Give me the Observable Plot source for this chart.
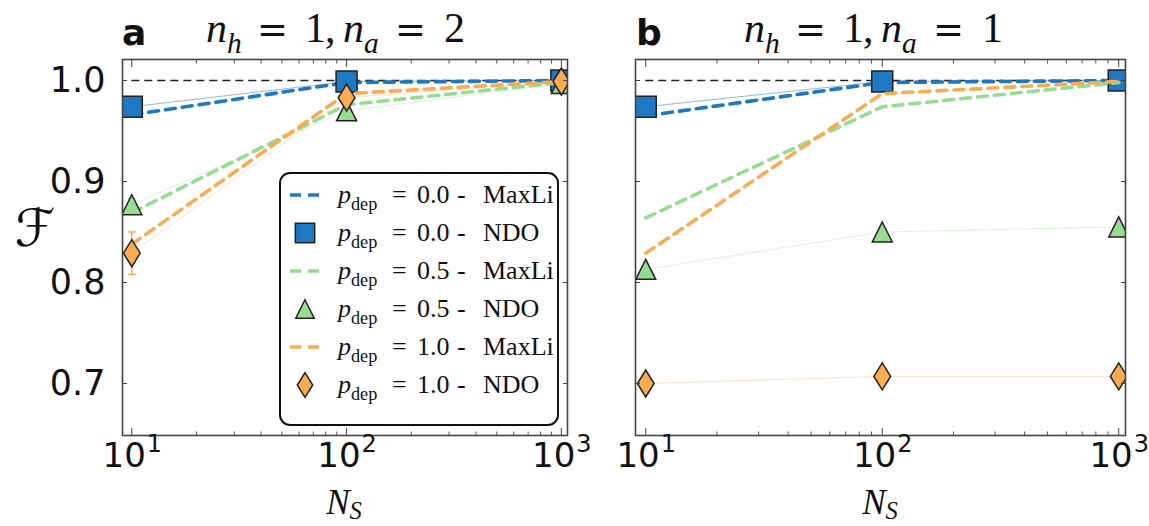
<!DOCTYPE html>
<html><head><meta charset="utf-8">
<script src="https://cdn.jsdelivr.net/npm/d3@7"></script>
<script src="https://cdn.jsdelivr.net/npm/@observablehq/plot@0.6"></script>
<style>
body{margin:0;background:#fff;}
#root{position:relative;width:1149px;height:526px;overflow:hidden;background:#fff;font-family:"DejaVu Sans",sans-serif;}
#root > svg{position:absolute;top:0;}
</style></head><body><div id="root"></div><script>
// ---------- data ----------
const Ns = [10, 100, 1000];
const xTickExp = ["1", "2", "3"];
const yTicks = [0.7, 0.8, 0.9, 1.0];
const minorX = [20,30,40,50,60,70,80,90,200,300,400,500,600,700,800,900];
const pdepLabels = ["0.0", "0.5", "1.0"];
const seriesColors = ["#1f78c4", "#98dc92", "#fbab52"];
const thinOpacity = [0.5, 0.35, 0.35];

// panel a: n_h = 1, n_a = 2
const a_maxli_00 = [0.966, 0.998, 1.000];
const a_ndo_00   = [0.974, 0.999, 1.000];
const a_err_00   = [0.002, 0.001, 0.001];
const a_maxli_05 = [0.869, 0.976, 0.998];
const a_ndo_05   = [0.877, 0.970, 0.997];
const a_err_05   = [0.006, 0.003, 0.001];
const a_maxli_10 = [0.838, 0.987, 0.999];
const a_ndo_10   = [0.829, 0.983, 0.999];
const a_err_10   = [0.021, 0.004, 0.001];

// panel b: n_h = 1, n_a = 1
const b_maxli_00 = [0.965, 0.998, 1.000];
const b_ndo_00   = [0.974, 0.999, 1.000];
const b_err_00   = [0.002, 0.001, 0.001];
const b_maxli_05 = [0.864, 0.974, 0.998];
const b_ndo_05   = [0.813, 0.850, 0.855];
const b_err_05   = [0.002, 0.001, 0.001];
const b_maxli_10 = [0.829, 0.987, 0.999];
const b_ndo_10   = [0.700, 0.707, 0.707];
const b_err_10   = [0.001, 0.001, 0.001];

// ---------- symbols (matplotlib-like) ----------
const rad = s => Math.sqrt(s / Math.PI);
const symSquare = {draw(c, s){const r = rad(s); c.rect(-r, -r, 2*r, 2*r);}};
const symTri = {draw(c, s){const r = rad(s); c.moveTo(0, -r); c.lineTo(r, r); c.lineTo(-r, r); c.closePath();}};
const symDia = {draw(c, s){const r = rad(s); c.moveTo(0, -r); c.lineTo(0.62*r, 0); c.lineTo(0, r); c.lineTo(-0.62*r, 0); c.closePath();}};
const symCap = {draw(c, s){const r = rad(s); c.moveTo(-r, 0); c.lineTo(r, 0);}};
const symbols = [symSquare, symTri, symDia];
const symR = [10.5, 10, 13.5];

const xDomain = [9.05, 1068];
const yDomain = [0.6485, 1.0208];

function buildSeries(maxli, ndo, err) {
  return pdepLabels.map((p, k) => ({
    color: seriesColors[k], symbol: symbols[k], r: symR[k], op: thinOpacity[k],
    maxli: Ns.map((n, i) => ({N: n, F: maxli[k][i]})),
    ndo: Ns.map((n, i) => ({N: n, F: ndo[k][i], e: err[k][i]}))
  }));
}

function panel(series, opt) {
  const marks = [
    Plot.ruleY([1.0], {x1: Ns[0], x2: Ns[2], stroke: "#222", strokeWidth: 1.3, strokeDasharray: "8,5"})
  ];
  for (const s of series) {
    marks.push(
      Plot.line(s.maxli, {x: "N", y: "F", stroke: s.color, strokeWidth: 3.6, strokeDasharray: "10,7", clip: true}),
      Plot.line(s.ndo, {x: "N", y: "F", stroke: s.color, strokeWidth: 1, strokeOpacity: s.op, clip: true}),
      Plot.ruleX(s.ndo, {x: "N", y1: d => d.F - d.e, y2: d => d.F + d.e, stroke: s.color, strokeWidth: 1.5, clip: true}),
      Plot.dot(s.ndo, {x: "N", y: d => d.F - d.e, symbol: symCap, r: 4, stroke: s.color, strokeWidth: 1.5, fill: "none", clip: true}),
      Plot.dot(s.ndo, {x: "N", y: d => d.F + d.e, symbol: symCap, r: 4, stroke: s.color, strokeWidth: 1.5, fill: "none", clip: true}),
      Plot.dot(s.ndo, {x: "N", y: "F", symbol: s.symbol, r: s.r, fill: s.color, stroke: "#222", strokeWidth: 1.5, clip: true})
    );
  }
  marks.push(
    Plot.frame({stroke: "#444", strokeWidth: 1.6}),
    Plot.axisX({anchor: "bottom", ticks: Ns, tickSize: -7, text: null, label: null, stroke: "#444"}),
    Plot.axisX({anchor: "top", ticks: Ns, tickSize: -7, text: null, label: null, stroke: "#444"}),
    Plot.axisX({anchor: "bottom", ticks: minorX, tickSize: -3.5, text: null, label: null, stroke: "#555"}),
    Plot.axisX({anchor: "top", ticks: minorX, tickSize: -3.5, text: null, label: null, stroke: "#555"}),
    Plot.axisY({anchor: "left", ticks: yTicks, tickSize: -5, text: null, label: null, stroke: "#444"}),
    Plot.axisY({anchor: "right", ticks: yTicks, tickSize: -5, text: null, label: null, stroke: "#444"}),
    Plot.text(Ns, {x: d => d, frameAnchor: "bottom", text: () => "10", textAnchor: "end", dx: 14, dy: 31, fontSize: 34, fill: "#111"}),
    Plot.text(Ns, {x: d => d, frameAnchor: "bottom", text: (d, i) => xTickExp[i], textAnchor: "start", dx: 15, dy: 16, fontSize: 24, fill: "#111"})
  );
  if (opt.yLabels) {
    marks.push(Plot.axisY({anchor: "left", ticks: yTicks, tickSize: 0, tickPadding: 17, fontSize: 35, label: null, tickFormat: d => d.toFixed(1), fill: "#111"}));
  }
  return Plot.plot({
    width: opt.width, height: 526,
    marginTop: 59, marginBottom: 91, marginLeft: opt.ml, marginRight: opt.mr,
    style: {fontFamily: "DejaVu Sans, sans-serif", background: "transparent", overflow: "visible"},
    x: {type: "log", domain: xDomain},
    y: {domain: yDomain},
    marks
  });
}

const seriesA = buildSeries([a_maxli_00, a_maxli_05, a_maxli_10], [a_ndo_00, a_ndo_05, a_ndo_10], [a_err_00, a_err_05, a_err_10]);
const seriesB = buildSeries([b_maxli_00, b_maxli_05, b_maxli_10], [b_ndo_00, b_ndo_05, b_ndo_10], [b_err_00, b_err_05, b_err_10]);

const root = document.getElementById("root");
const pa = panel(seriesA, {width: 580, ml: 122, mr: 13, yLabels: true});
pa.style.left = "0px";
root.appendChild(pa);
const pb = panel(seriesB, {width: 569, ml: 55, mr: 24, yLabels: false});
pb.style.left = "580px";
root.appendChild(pb);

// ---------- overlay text & legend ----------
const SERIF = "Liberation Serif, DejaVu Serif, serif";
const ov = d3.select(root).append("svg").attr("width", 1149).attr("height", 526).style("left", "0px").style("pointer-events", "none");

function rich(x, y, parts, fs, anchor = "start", family = SERIF, subShift = 0.25) {
  const t = ov.append("text").attr("x", x).attr("y", y).attr("font-size", fs)
    .attr("font-family", family).attr("text-anchor", anchor).attr("fill", "#111").style("white-space", "pre");
  let shift = 0;
  for (const p of parts) {
    const ts = t.append("tspan").text(p.t);
    if (p.x != null) ts.attr("x", p.x);
    if (p.i) ts.attr("font-style", "italic");
    if (p.f) ts.attr("font-family", p.f);
    if (p.fs) ts.attr("font-size", p.fs);
    const want = p.sub ? fs * subShift : 0;
    if (want !== shift) { ts.attr("dy", want - shift); shift = want; }
    if (p.sub) ts.attr("font-size", fs * 0.7);
  }
  return t;
}

// panel letters
ov.append("text").attr("x", 122).attr("y", 45).attr("font-size", 36).attr("font-weight", "bold").attr("font-family", "DejaVu Sans").attr("fill", "#111").text("a");
ov.append("text").attr("x", 636).attr("y", 45).attr("font-size", 36).attr("font-weight", "bold").attr("font-family", "DejaVu Sans").attr("fill", "#111").text("b");
// titles (math-style spacing)
function title(x0, last) {
  rich(0, 42, [
    {t: "n", i: 1, x: x0}, {t: "h", i: 1, sub: 1},
    {t: "=", x: x0 + 51, f: "DejaVu Sans", fs: 37}, {t: "1", x: x0 + 99}, {t: ",", x: x0 + 119},
    {t: "n", i: 1, x: x0 + 137}, {t: "a", i: 1, sub: 1},
    {t: "=", x: x0 + 189, f: "DejaVu Sans", fs: 37}, {t: last, x: x0 + 238}
  ], 42);
}
title(206, "2");
title(744, "1");
// axis labels
rich(344, 514, [{t: "N", i: 1}, {t: "S", i: 1, sub: 1}], 35, "middle", SERIF, 0.15);
rich(880, 514, [{t: "N", i: 1}, {t: "S", i: 1, sub: 1}], 35, "middle", SERIF, 0.15);
ov.append("text").attr("x", 35).attr("y", 246).attr("font-size", 52).attr("text-anchor", "middle").attr("font-family", "DejaVu Sans").attr("fill", "#111").text("ℱ");

// legend
const lg = ov.append("g");
lg.append("rect").attr("x", 280).attr("y", 173).attr("width", 278).attr("height", 252).attr("rx", 10)
  .attr("fill", "#fff").attr("stroke", "#111").attr("stroke-width", 2);
const legendKinds = ["MaxLi", "NDO"];
let row = 0;
pdepLabels.forEach((p, k) => {
  legendKinds.forEach(kind => {
    const cy = 195 + row * 38;
    if (kind === "MaxLi") {
      lg.append("line").attr("x1", 290).attr("x2", 320).attr("y1", cy).attr("y2", cy)
        .attr("stroke", seriesColors[k]).attr("stroke-width", 3.6).attr("stroke-dasharray", "11,7");
    } else {
      const path = d3.path();
      symbols[k].draw(path, Math.PI * symR[k] * symR[k] * 0.85);
      lg.append("path").attr("d", path.toString()).attr("transform", `translate(305,${cy})`)
        .attr("fill", seriesColors[k]).attr("stroke", "#222").attr("stroke-width", 1.5);
    }
    const t = rich(338, cy + 8, [{t: "p", i: 1}, {t: "dep", sub: 1}], 26);
    t.append("tspan").attr("x", 392).attr("dy", -26 * 0.25).text("=");
    t.append("tspan").attr("x", 417).text(p);
    t.append("tspan").attr("x", 457).text("-");
    t.append("tspan").attr("x", 483).text(kind);
    row++;
  });
});
</script></body></html>
